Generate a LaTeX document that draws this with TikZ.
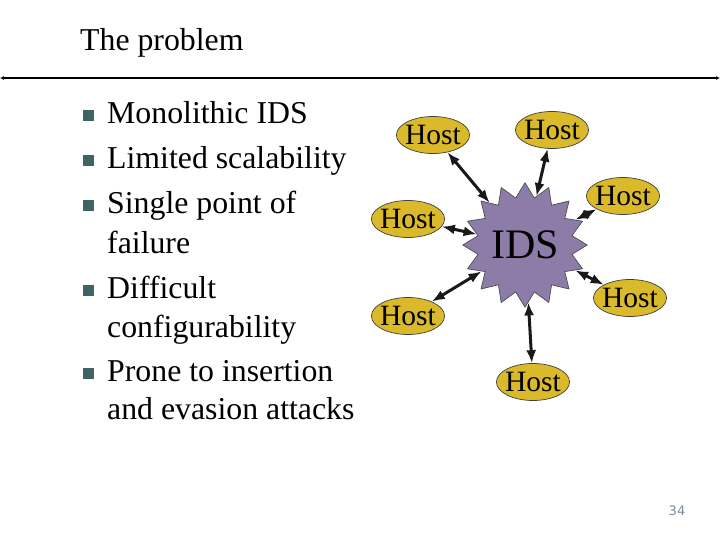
\documentclass[tikz,border=0pt]{standalone}
\usepackage{fontspec}
\setmainfont{Liberation Serif}
\newfontfamily\numfont{DejaVu Sans}
\usetikzlibrary{arrows.meta,shapes.geometric}
\definecolor{hostfill}{RGB}{218,185,42}
\definecolor{idsfill}{RGB}{142,124,168}
\definecolor{bulletcol}{RGB}{62,100,100}
\definecolor{pagecol}{RGB}{125,140,150}

\begin{document}
\begin{tikzpicture}[line cap=round,line join=round,>={Latex[length=13pt,width=10pt]},x=1pt,y=-1pt,
  host/.style={ellipse,draw=black!75,line width=0.7pt,fill=hostfill,inner xsep=-2pt,inner ysep=0pt,minimum height=37pt,font=\fontsize{29.5}{31}\selectfont},
  idsstar/.style={star,star points=16,star point ratio=1.3,minimum size=104pt,inner sep=0pt,draw=black!70,line width=0.7pt,fill=idsfill,font=\fontsize{42}{44}\selectfont},
  bul/.style={rectangle,minimum size=11pt,inner sep=0pt,fill=bulletcol},
  txt/.style={anchor=base west,inner sep=0pt,font=\fontsize{31.8}{33}\selectfont},
  link/.style={<->,line width=3pt,black!90}]

\useasboundingbox (0,0) rectangle (720,540);

% title and rule
\node[txt] (title) at (80,51) {The problem};
\coordinate (rl) at (0,78);
\coordinate (rr) at (720,78);
\draw[{Latex[length=4pt,width=4pt]}-{Latex[length=4pt,width=4pt]},line width=1.5pt] (rl)-- (rr);

% bullet list
\node[bul] (s1) at (88,116) {};
\node[txt] (b1) at (107,124) {Monolithic IDS};
\node[bul] (s2) at (88,161) {};
\node[txt] (b2) at (107,169) {Limited scalability};
\node[bul] (s3) at (88,206) {};
\node[txt] (b3) at (107,214) {Single point of};
\node[txt] (b3b) at (107,253) {failure};
\node[bul] (s4) at (88,290) {};
\node[txt] (b4) at (107,298) {Difficult};
\node[txt] (b4b) at (107,337) {configurability};
\node[bul] (s5) at (88,373) {};
\node[txt] (b5) at (107,381) {Prone to insertion};
\node[txt] (b5b) at (107,419) {and evasion attacks};

% ids and hosts
\node[idsstar] (ids) at (525,245) {IDS};
\node[host] (h1) at (433,135) {Host};
\node[host] (h2) at (552,130) {Host};
\node[host] (h3) at (623,196) {Host};
\node[host] (h4) at (408,219) {Host};
\node[host] (h5) at (630,298) {Host};
\node[host] (h6) at (408,316) {Host};
\node[host] (h7) at (533,382) {Host};
\draw[link] (h1)-- (ids);
\draw[link] (h2)-- (ids);
\draw[link] (h3)-- (ids);
\draw[link] (h4)-- (ids);
\draw[link] (h5)-- (ids);
\draw[link] (h6)-- (ids);
\draw[link] (h7)-- (ids);

% page number
\node[font=\numfont\fontsize{13}{14}\selectfont,text=pagecol] (pg) at (677,511) {34};
\end{tikzpicture}
\end{document}
